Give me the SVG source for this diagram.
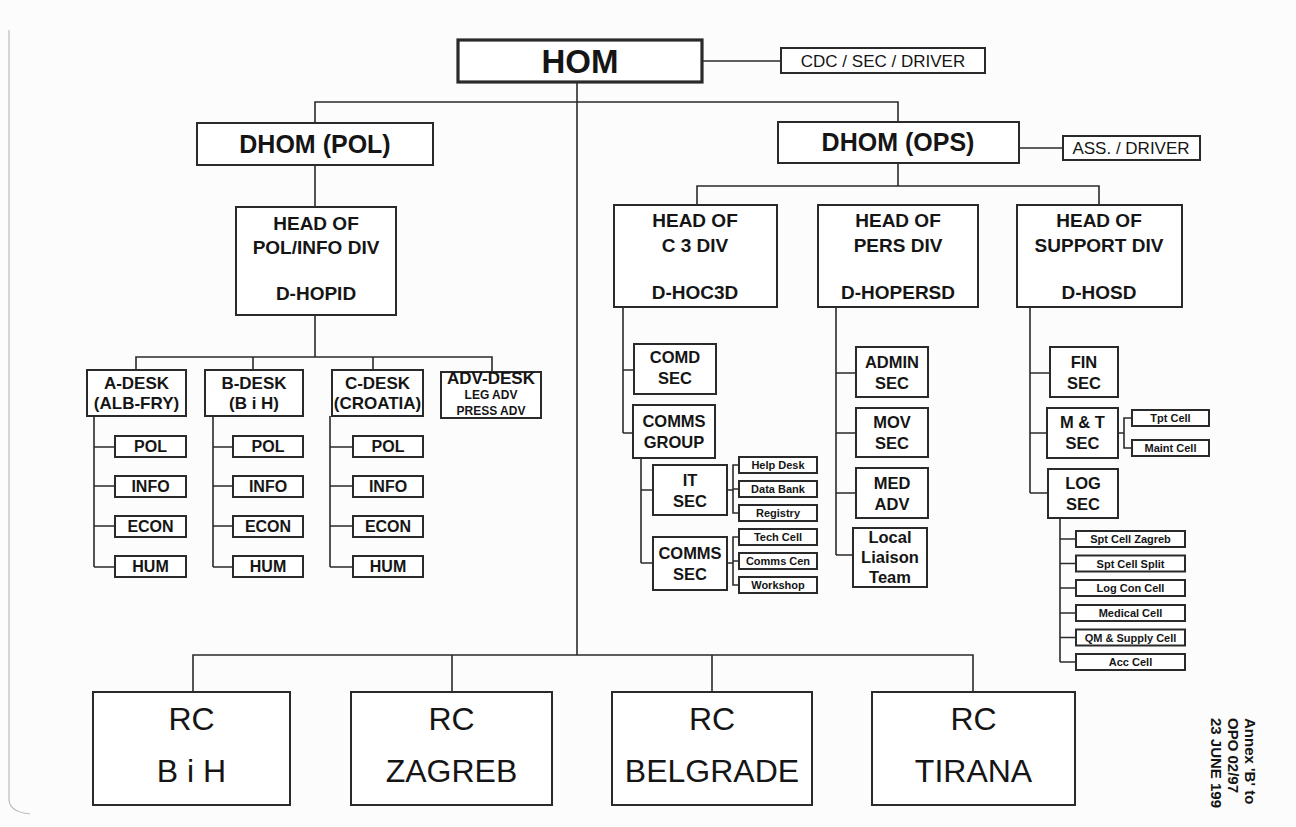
<svg xmlns="http://www.w3.org/2000/svg" width="1296" height="827" viewBox="0 0 1296 827">
<style>
.b{fill:#fff;stroke:#2a2a2a;stroke-width:2}
.c{fill:none;stroke:#2a2a2a;stroke-width:1.6}
text{font-family:"Liberation Sans",Arial,sans-serif;fill:#151515;text-anchor:middle}
.t33{font-size:33px;font-weight:bold}
.t25{font-size:25px;font-weight:bold}
.t19{font-size:19px;font-weight:bold}
.t17{font-size:17px;font-weight:bold}
.t16{font-size:16px;font-weight:bold}
.t165{font-size:16.5px;font-weight:bold}
.t12{font-size:12px;font-weight:bold}
.t11{font-size:11px;font-weight:bold}
.r17{font-size:17px}
.rc{font-size:32px}
</style>
<rect width="1296" height="827" fill="#fcfcfc"/>
<path d="M9,30 V800 Q10,812 30,814" fill="none" stroke="#bbb" stroke-width="1.2"/>
<g id="connectors" class="c">
<path class="c" d="M702,61 H781"/>
<path class="c" d="M577,82 V655"/>
<path class="c" d="M315,123 V102 H898 V122"/>
<path class="c" d="M315,165 V207"/>
<path class="c" d="M315,315 V357 M136,370 V357 H492 V372 M253,357 V370 M373,357 V370"/>
<path class="c" d="M94,416 V567 M94,447 H115 M94,486 H115 M94,526 H115 M94,567 H115"/>
<path class="c" d="M213,416 V567 M213,447 H233 M213,486 H233 M213,526 H233 M213,567 H233"/>
<path class="c" d="M330,416 V567 M330,447 H353 M330,486 H353 M330,526 H353 M330,567 H353"/>
<path class="c" d="M1019,148 H1063"/>
<path class="c" d="M898,163 V186 M697,205 V186 H1099 V205"/>
<path class="c" d="M623,307 V433 M623,370 H634 M623,433 H633"/>
<path class="c" d="M641,458 V563 M641,490 H653 M641,563 H653"/>
<path class="c" d="M727,490 H733 M739,465 H733 V513 H739 M733,489 H739"/>
<path class="c" d="M727,563 H733 M739,537 H733 V585 H739 M733,561 H739"/>
<path class="c" d="M836,307 V555 M836,373 H856 M836,433 H856 M836,493 H856 M836,555 H853"/>
<path class="c" d="M1030,307 V493 M1030,373 H1050 M1030,433 H1047 M1030,493 H1048"/>
<path class="c" d="M1118,433 H1124 M1132,418 H1124 V448 H1132"/>
<path class="c" d="M1060,518 V662 M1060,539 H1076 M1060,563.5 H1076 M1060,588 H1076 M1060,613 H1076 M1060,637.5 H1076 M1060,662 H1076"/>
<path class="c" d="M193,692 V655 H973 V692 M452,655 V692 M712,655 V692"/>
</g>
<g id="hom"><rect class="b" x="458" y="40" width="244" height="42" style="stroke-width:3.2"/><text class="t33" x="580" y="73">HOM</text></g>
<g id="cdc"><rect class="b" x="781" y="48" width="204" height="25"/><text class="r17" x="883" y="67">CDC / SEC / DRIVER</text></g>
<g id="dhom-pol"><rect class="b" x="197" y="123" width="236" height="42"/><text class="t25" x="315" y="153">DHOM (POL)</text></g>
<g id="dhom-ops"><rect class="b" x="778" y="122" width="241" height="41"/><text class="t25" x="898" y="151">DHOM (OPS)</text></g>
<g id="ass"><rect class="b" x="1063" y="136" width="137" height="24"/><text class="r17" x="1131" y="154">ASS. / DRIVER</text></g>
<g id="head-pol"><rect class="b" x="236" y="207" width="160" height="108"/><text class="t19" x="316" y="230">HEAD OF</text><text class="t19" x="316" y="254">POL/INFO DIV</text><text class="t19" x="316" y="300">D-HOPID</text></g>
<g id="head-c3"><rect class="b" x="614" y="205" width="163" height="102"/><text class="t19" x="695" y="227">HEAD OF</text><text class="t19" x="695" y="252">C 3 DIV</text><text class="t19" x="695" y="299">D-HOC3D</text></g>
<g id="head-pers"><rect class="b" x="818" y="205" width="160" height="102"/><text class="t19" x="898" y="227">HEAD OF</text><text class="t19" x="898" y="252">PERS DIV</text><text class="t19" x="898" y="299">D-HOPERSD</text></g>
<g id="head-support"><rect class="b" x="1017" y="205" width="165" height="102"/><text class="t19" x="1099" y="227">HEAD OF</text><text class="t19" x="1099" y="252">SUPPORT DIV</text><text class="t19" x="1099" y="299">D-HOSD</text></g>
<g id="a-desk"><rect class="b" x="87" y="370" width="99" height="46"/><text class="t17" x="136.5" y="389">A-DESK</text><text class="t17" x="136.5" y="409">(ALB-FRY)</text></g>
<g id="b-desk"><rect class="b" x="205" y="370" width="98" height="46"/><text class="t17" x="254" y="389">B-DESK</text><text class="t17" x="254" y="409">(B i H)</text></g>
<g id="c-desk"><rect class="b" x="332" y="370" width="91" height="46"/><text class="t17" x="377.5" y="389">C-DESK</text><text class="t17" x="377.5" y="409">(CROATIA)</text></g>
<g id="adv-desk"><rect class="b" x="441" y="372" width="100" height="46"/><text class="t17" x="491" y="384">ADV-DESK</text><text class="t12" x="491" y="399">LEG ADV</text><text class="t12" x="491" y="415">PRESS ADV</text></g>
<g id="a-pol"><rect class="b" x="115" y="436" width="71" height="21"/><text class="t16" x="150.5" y="452">POL</text></g>
<g id="a-info"><rect class="b" x="115" y="476" width="71" height="21"/><text class="t16" x="150.5" y="492">INFO</text></g>
<g id="a-econ"><rect class="b" x="115" y="516" width="71" height="21"/><text class="t16" x="150.5" y="532">ECON</text></g>
<g id="a-hum"><rect class="b" x="115" y="556" width="71" height="21"/><text class="t16" x="150.5" y="572">HUM</text></g>
<g id="b-pol"><rect class="b" x="233" y="436" width="70" height="21"/><text class="t16" x="268" y="452">POL</text></g>
<g id="b-info"><rect class="b" x="233" y="476" width="70" height="21"/><text class="t16" x="268" y="492">INFO</text></g>
<g id="b-econ"><rect class="b" x="233" y="516" width="70" height="21"/><text class="t16" x="268" y="532">ECON</text></g>
<g id="b-hum"><rect class="b" x="233" y="556" width="70" height="21"/><text class="t16" x="268" y="572">HUM</text></g>
<g id="c-pol"><rect class="b" x="353" y="436" width="70" height="21"/><text class="t16" x="388" y="452">POL</text></g>
<g id="c-info"><rect class="b" x="353" y="476" width="70" height="21"/><text class="t16" x="388" y="492">INFO</text></g>
<g id="c-econ"><rect class="b" x="353" y="516" width="70" height="21"/><text class="t16" x="388" y="532">ECON</text></g>
<g id="c-hum"><rect class="b" x="353" y="556" width="70" height="21"/><text class="t16" x="388" y="572">HUM</text></g>
<g id="comd-sec"><rect class="b" x="634" y="344" width="82" height="50"/><text class="t165" x="675" y="363">COMD</text><text class="t165" x="675" y="384">SEC</text></g>
<g id="comms-group"><rect class="b" x="633" y="405" width="82" height="53"/><text class="t165" x="674" y="427">COMMS</text><text class="t165" x="674" y="448">GROUP</text></g>
<g id="it-sec"><rect class="b" x="653" y="465" width="74" height="50"/><text class="t165" x="690" y="486">IT</text><text class="t165" x="690" y="507">SEC</text></g>
<g id="comms-sec"><rect class="b" x="653" y="537" width="74" height="53"/><text class="t165" x="690" y="559">COMMS</text><text class="t165" x="690" y="580">SEC</text></g>
<g id="help-desk"><rect class="b" x="739" y="457" width="78" height="16"/><text class="t11" x="778" y="469">Help Desk</text></g>
<g id="data-bank"><rect class="b" x="739" y="481" width="78" height="16"/><text class="t11" x="778" y="493">Data Bank</text></g>
<g id="registry"><rect class="b" x="739" y="505" width="78" height="16"/><text class="t11" x="778" y="517">Registry</text></g>
<g id="tech-cell"><rect class="b" x="739" y="529" width="78" height="16"/><text class="t11" x="778" y="541">Tech Cell</text></g>
<g id="comms-cen"><rect class="b" x="739" y="553" width="78" height="16"/><text class="t11" x="778" y="565">Comms Cen</text></g>
<g id="workshop"><rect class="b" x="739" y="577" width="78" height="16"/><text class="t11" x="778" y="589">Workshop</text></g>
<g id="admin-sec"><rect class="b" x="856" y="347" width="72" height="50"/><text class="t165" x="892" y="368">ADMIN</text><text class="t165" x="892" y="389">SEC</text></g>
<g id="mov-sec"><rect class="b" x="856" y="408" width="72" height="49"/><text class="t165" x="892" y="428">MOV</text><text class="t165" x="892" y="449">SEC</text></g>
<g id="med-adv"><rect class="b" x="856" y="468" width="72" height="50"/><text class="t165" x="892" y="489">MED</text><text class="t165" x="892" y="510">ADV</text></g>
<g id="local-liaison"><rect class="b" x="853" y="528" width="74" height="59"/><text class="t165" x="890" y="543">Local</text><text class="t165" x="890" y="563">Liaison</text><text class="t165" x="890" y="583">Team</text></g>
<g id="fin-sec"><rect class="b" x="1050" y="347" width="68" height="50"/><text class="t165" x="1084" y="368">FIN</text><text class="t165" x="1084" y="389">SEC</text></g>
<g id="mt-sec"><rect class="b" x="1047" y="408" width="71" height="50"/><text class="t165" x="1082.5" y="428">M &amp; T</text><text class="t165" x="1082.5" y="449">SEC</text></g>
<g id="log-sec"><rect class="b" x="1048" y="469" width="70" height="49"/><text class="t165" x="1083" y="489">LOG</text><text class="t165" x="1083" y="510">SEC</text></g>
<g id="tpt-cell"><rect class="b" x="1132" y="410" width="77" height="16"/><text class="t11" x="1170.5" y="422">Tpt Cell</text></g>
<g id="maint-cell"><rect class="b" x="1132" y="440" width="77" height="16"/><text class="t11" x="1170.5" y="452">Maint Cell</text></g>
<g id="spt-zagreb"><rect class="b" x="1076" y="531" width="109" height="16"/><text class="t11" x="1130.5" y="543">Spt Cell Zagreb</text></g>
<g id="spt-split"><rect class="b" x="1076" y="555.5" width="109" height="16"/><text class="t11" x="1130.5" y="567.5">Spt Cell Split</text></g>
<g id="log-con"><rect class="b" x="1076" y="580" width="109" height="16"/><text class="t11" x="1130.5" y="592">Log Con Cell</text></g>
<g id="medical"><rect class="b" x="1076" y="605" width="109" height="16"/><text class="t11" x="1130.5" y="617">Medical Cell</text></g>
<g id="qm-supply"><rect class="b" x="1076" y="629.5" width="109" height="16"/><text class="t11" x="1130.5" y="641.5">QM &amp; Supply Cell</text></g>
<g id="acc-cell"><rect class="b" x="1076" y="654" width="109" height="16"/><text class="t11" x="1130.5" y="666">Acc Cell</text></g>
<g id="rc-bih"><rect class="b" x="93" y="692" width="197" height="113"/><text class="rc" x="191.5" y="729.5">RC</text><text class="rc" x="191.5" y="781.5">B i H</text></g>
<g id="rc-zagreb"><rect class="b" x="351" y="692" width="201" height="113"/><text class="rc" x="451.5" y="729.5">RC</text><text class="rc" x="451.5" y="781.5">ZAGREB</text></g>
<g id="rc-belgrade"><rect class="b" x="612" y="692" width="200" height="113"/><text class="rc" x="712" y="729.5">RC</text><text class="rc" x="712" y="781.5">BELGRADE</text></g>
<g id="rc-tirana"><rect class="b" x="872" y="692" width="203" height="113"/><text class="rc" x="973.5" y="729.5">RC</text><text class="rc" x="973.5" y="781.5">TIRANA</text></g>
<g id="annex" transform="translate(1245,718) rotate(90)">
<text class="t16" x="0" y="0" style="text-anchor:start;font-size:15px">Annex 'B' to</text>
<text class="t16" x="0" y="17" style="text-anchor:start;font-size:15px">OPO 02/97</text>
<text class="t16" x="0" y="34" style="text-anchor:start;font-size:15px">23 JUNE 199</text>
</g>
</svg>
